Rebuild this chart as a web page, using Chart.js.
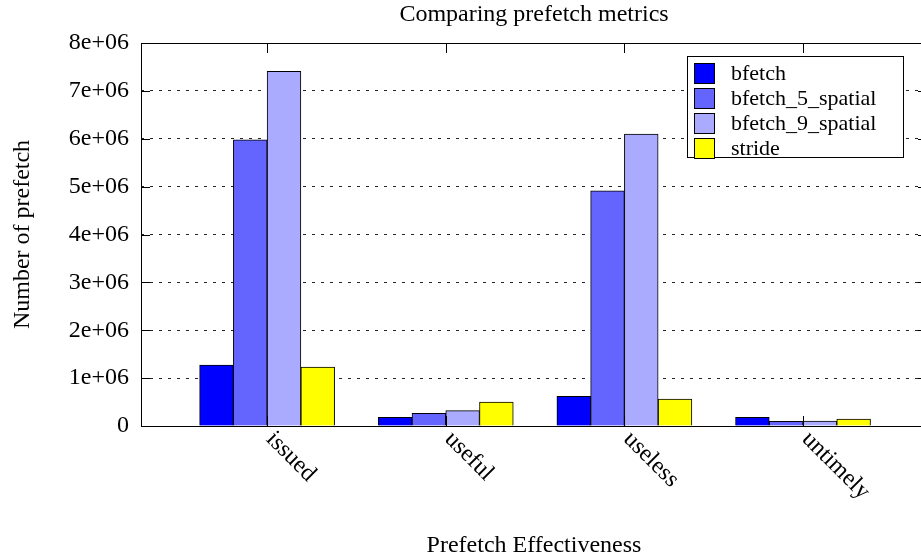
<!DOCTYPE html>
<html>
<head>
<meta charset="utf-8">
<script src="https://cdn.jsdelivr.net/npm/chart.js@4/dist/chart.umd.min.js"></script>
<style>
  html, body { margin: 0; padding: 0; overflow: hidden; background: #fff; }
  canvas { display: block; }
</style>
</head>
<body>
<canvas id="chart" width="930" height="560"></canvas>
<script>
// Prefetch effectiveness per prefetcher
const categories = ['issued', 'useful', 'useless', 'untimely'];
const seriesNames = ['bfetch', 'bfetch_5_spatial', 'bfetch_9_spatial', 'stride'];
const bfetch      = [1270000, 180000, 620000, 180000];
const bfetch5     = [5980000, 265000, 4910000, 100000];
const bfetch9     = [7410000, 320000, 6100000, 105000];
const stride      = [1230000, 500000, 560000, 145000];
const yTickValues = [0, 1e6, 2e6, 3e6, 4e6, 5e6, 6e6, 7e6, 8e6];

const titleText = 'Comparing prefetch metrics';
const xTitleText = 'Prefetch Effectiveness';
const yTitleText = 'Number of prefetch';

const seriesValues = [bfetch, bfetch5, bfetch9, stride];
const seriesColors = ['#0000ff', '#6464ff', '#aaaaff', '#ffff00'];

const FONT = "'Liberation Serif', 'Times New Roman', serif";

function formatTick(v) {
  return v === 0 ? '0' : (v / 1e6) + 'e+06';
}

// Frame, mirrored tick marks, rotated category labels, titles and legend box
const decorations = {
  id: 'decorations',
  afterDatasetsDraw(chart) {
    const { ctx, chartArea: a, scales: { x, y } } = chart;
    ctx.save();
    ctx.strokeStyle = '#000';
    ctx.lineWidth = 1;
    ctx.strokeRect(a.left + 0.5, a.top + 0.5, a.right - a.left - 1, a.bottom - a.top);
    ctx.beginPath();
    yTickValues.forEach(v => {
      const py = Math.round(y.getPixelForValue(v)) + 0.5;
      ctx.moveTo(a.left, py); ctx.lineTo(a.left + 9, py);
      ctx.moveTo(a.right, py); ctx.lineTo(a.right - 9, py);
    });
    categories.forEach((c, i) => {
      const px = Math.round(x.getPixelForValue(i)) + 0.5;
      ctx.moveTo(px, a.bottom); ctx.lineTo(px, a.bottom - 10);
      ctx.moveTo(px, a.top); ctx.lineTo(px, a.top + 10);
    });
    ctx.stroke();
    ctx.restore();
  },
  afterDraw(chart) {
    const { ctx, chartArea: a, scales: { x } } = chart;
    const cx = (a.left + a.right) / 2;
    ctx.save();
    ctx.fillStyle = '#000';
    ctx.font = '24px ' + FONT;

    // category labels, slanted downwards
    categories.forEach((c, i) => {
      const px = x.getPixelForValue(i);
      ctx.save();
      ctx.translate(px + 11, a.bottom + 1);
      ctx.rotate(Math.PI / 4);
      ctx.textAlign = 'left';
      ctx.textBaseline = 'top';
      ctx.fillText(c, 0, 0);
      ctx.restore();
    });

    // titles
    ctx.textAlign = 'center';
    ctx.textBaseline = 'middle';
    ctx.fillText(titleText, cx, 15);
    ctx.fillText(xTitleText, cx, 546);
    ctx.save();
    ctx.translate(23, (a.top + a.bottom) / 2);
    ctx.rotate(-Math.PI / 2);
    ctx.fillText(yTitleText, 0, 0);
    ctx.restore();

    // legend
    const boxR = a.right - 24, boxT = a.top + 13, boxW = 216, boxH = 101;
    const boxL = boxR - boxW;
    ctx.fillStyle = '#fff';
    ctx.fillRect(boxL, boxT, boxW, boxH);
    ctx.strokeStyle = '#000';
    ctx.lineWidth = 1;
    ctx.strokeRect(boxL + 0.5, boxT + 0.5, boxW, boxH);
    ctx.font = '22px ' + FONT;
    ctx.textAlign = 'left';
    ctx.textBaseline = 'middle';
    chart.data.datasets.forEach((ds, i) => {
      const rowY = boxT + 17 + i * 25;
      ctx.fillStyle = ds.backgroundColor;
      ctx.fillRect(boxL + 7, rowY - 10, 20, 20);
      ctx.strokeRect(boxL + 7.5, rowY - 9.5, 20, 20);
      ctx.fillStyle = '#000';
      ctx.fillText(ds.label, boxL + 44, rowY + 1);
    });
    ctx.restore();
  }
};

new Chart(document.getElementById('chart'), {
  type: 'bar',
  data: {
    datasets: seriesNames.map((name, s) => ({
      label: name,
      data: seriesValues[s].map((v, i) => ({ x: i, y: v })),
      backgroundColor: seriesColors[s],
      borderColor: '#000',
      borderWidth: 1,
      barThickness: 33.75
    }))
  },
  options: {
    responsive: false,
    animation: false,
    layout: { padding: { top: 43, right: 3, left: 0, bottom: 0 } },
    plugins: {
      legend: { display: false },
      title: { display: false },
      tooltip: { enabled: false }
    },
    scales: {
      x: {
        type: 'linear',
        min: -0.706,
        max: 3.694,
        offset: false,
        grid: { display: false, drawTicks: false },
        border: { display: false },
        ticks: { display: false, stepSize: 1, includeBounds: false },
        afterFit(scale) { scale.height = 134; }
      },
      y: {
        min: 0,
        max: 8e6,
        afterBuildTicks(scale) { scale.ticks = yTickValues.map(v => ({ value: v })); },
        ticks: {
          callback: formatTick,
          color: '#000',
          padding: 12,
          font: { family: FONT, size: 24 }
        },
        grid: { color: '#222', lineWidth: 1, drawTicks: false },
        border: { display: false, dash: [3, 6] },
        afterFit(scale) { scale.width = 141; }
      }
    }
  },
  plugins: [decorations]
});
</script>
</body>
</html>
